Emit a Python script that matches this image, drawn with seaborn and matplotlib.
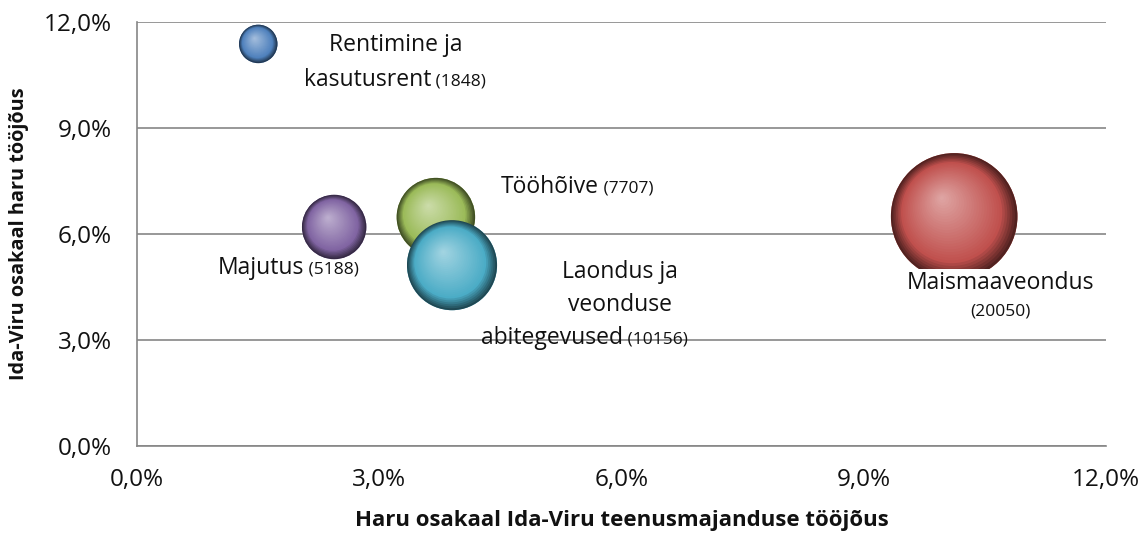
import numpy as np
import pandas as pd
import seaborn as sns
import matplotlib.pyplot as plt
from matplotlib.ticker import FuncFormatter, MultipleLocator
from matplotlib.colors import to_rgb
from matplotlib.transforms import ScaledTranslation

# data (drawing order = Excel series order)
branches = ["Rentimine ja kasutusrent", "Maismaaveondus", "Tööhõive", "Majutus",
            "Laondus ja veonduse abitegevused"]
share_service = [1.50, 10.12, 3.70, 2.44, 3.90]      # x, %
share_idaviru = [11.38, 6.50, 6.48, 6.20, 5.12]      # y, %
workers = [1848, 20050, 7707, 5188, 10156]            # bubble size
colors = ["#4F81BD", "#C0504D", "#9BBB59", "#8064A2", "#4BACC6"]

df = pd.DataFrame({"branch": branches, "x": share_service,
                   "y": share_idaviru, "n": workers})

sns.set_style("white")
plt.rcParams["font.family"] = ["Open Sans", "DejaVu Sans"]

fig = plt.figure(figsize=(11.43, 5.33), dpi=100)
ax = fig.add_axes([0.12, 0.163, 0.8476, 0.7957])

max_s = 8300.0  # pt^2 for the biggest bubble
sns.scatterplot(data=df, x="x", y="y", hue="branch", palette=colors,
                size="n", sizes=(0, max_s), size_norm=(0, max(workers)),
                edgecolor="none", legend=False, ax=ax, zorder=3)


def shade(base, f):
    base = np.array(to_rgb(base))
    dark = base * 0.42
    light = base + (1 - base) * 0.5
    if f > 0.8:
        t = (1 - f) / 0.2
        return dark * (1 - t) + base * t
    t = (0.8 - f) / 0.8
    return base * (1 - t) + light * t


# fake 3D sphere shading with stacked circles
nlay = 30
for i, row in df.iterrows():
    s = max_s * row["n"] / max(workers)
    R = np.sqrt(s) / 2  # radius, points
    for k in range(nlay):
        f = 1 - k / nlay
        dx = -0.2 * R * (1 - f)
        dy = 0.3 * R * (1 - f)
        tr = ax.transData + ScaledTranslation(dx / 72, dy / 72, fig.dpi_scale_trans)
        ax.scatter([row["x"]], [row["y"]], s=(2 * R * f) ** 2, color=shade(colors[i], f),
                   edgecolor="none", transform=tr, zorder=4 + i)

# labels
big, small = 16.5, 12.5
txt = "#111111"


def num_after(t, num):
    ax.annotate(" " + num, xy=(1, 0.1), xycoords=t, va="bottom", ha="left",
                fontsize=small, color=txt, zorder=20)


ax.text(3.2, 11.35, "Rentimine ja", ha="center", va="center", fontsize=big, color=txt, zorder=20)
t = ax.text(3.64, 10.36, "kasutusrent", ha="right", va="center", fontsize=big, color=txt, zorder=20)
num_after(t, "(1848)")

t = ax.text(5.72, 7.33, "Tööhõive", ha="right", va="center", fontsize=big, color=txt, zorder=20)
num_after(t, "(7707)")

t = ax.text(2.07, 5.04, "Majutus", ha="right", va="center", fontsize=big, color=txt, zorder=20)
num_after(t, "(5188)")

ax.text(5.98, 4.92, "Laondus ja", ha="center", va="center", fontsize=big, color=txt, zorder=20)
ax.text(5.98, 3.99, "veonduse", ha="center", va="center", fontsize=big, color=txt, zorder=20)
t = ax.text(6.02, 3.06, "abitegevused", ha="right", va="center", fontsize=big, color=txt, zorder=20)
num_after(t, "(10156)")

# this label box hides the lower edge of the big bubble, like in the original
ax.text(10.69, 4.62, "Maismaaveondus", ha="center", va="center", fontsize=big, color=txt,
        zorder=20, bbox=dict(facecolor="white", edgecolor="none", pad=1))
ax.text(10.69, 3.80, "(20050)", ha="center", va="center", fontsize=small, color=txt, zorder=20)

# axes
pct = FuncFormatter(lambda v, p: f"{v:.1f}%".replace(".", ","))
ax.set_xlim(0, 12)
ax.set_ylim(0, 12)
ax.xaxis.set_major_locator(MultipleLocator(3))
ax.yaxis.set_major_locator(MultipleLocator(3))
ax.xaxis.set_major_formatter(pct)
ax.yaxis.set_major_formatter(pct)
ax.grid(axis="y", color="#868686", linewidth=1.2)
ax.set_axisbelow(True)
for side in ["top", "right"]:
    ax.spines[side].set_visible(False)
for side in ["left", "bottom"]:
    ax.spines[side].set_color("#868686")
    ax.spines[side].set_linewidth(1.2)
ax.tick_params(axis="both", direction="out", length=6, width=1.2, color="#868686",
               labelsize=17.5, labelcolor="#111111")
ax.tick_params(axis="y", pad=12)
ax.tick_params(axis="x", pad=10)
ax.set_xlabel("Haru osakaal Ida-Viru teenusmajanduse tööjõus", fontsize=16,
              fontweight="bold", labelpad=13, color="#111111")
ax.set_ylabel("Ida-Viru osakaal haru tööjõus", fontsize=14.3, fontweight="bold",
              labelpad=11, color="#111111")

fig.savefig("out.png", dpi=100)
